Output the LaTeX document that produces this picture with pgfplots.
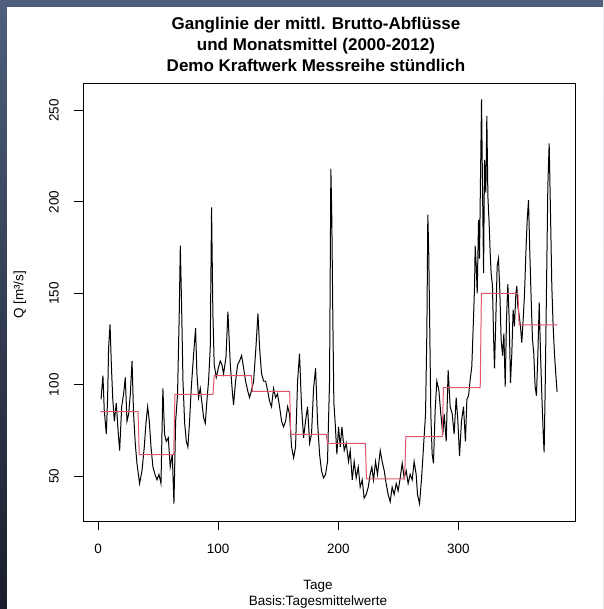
\documentclass[border=0pt]{standalone}
\usepackage{pgfplots}
\pgfplotsset{compat=1.18}
\usepackage{fontspec}
\setmainfont{Liberation Sans}
\definecolor{rred}{HTML}{E0566E}
\definecolor{bgtop}{RGB}{78,94,124}
\definecolor{bgbot}{RGB}{26,30,42}
\begin{document}
\begin{tikzpicture}
\useasboundingbox (0pt,0pt) rectangle (603pt,609pt);
\shade[top color=bgtop, bottom color=bgbot] (0pt,0pt) rectangle (603pt,609pt);
\fill[white] (7pt,0pt) rectangle (603pt,602pt);
\begin{axis}[at={(83pt,88pt)}, anchor=south west, scale only axis,
  width=492pt, height=438pt,
  xmin=-12.5, xmax=397, ymin=25.5, ymax=265,
  xtick={0,100,200,300}, ytick={50,100,150,200,250},
  tick align=outside, major tick length=9pt,
  xtick pos=bottom, ytick pos=left,
  axis line style={line width=0.8pt},
  every tick/.style={black, line width=0.8pt},
  ticklabel style={font=\fontsize{13.5}{16}\selectfont},
  /pgf/number format/assume math mode=true,
  yticklabel style={xshift=-20pt, rotate=90, anchor=center},
  xticklabel style={yshift=-19pt, anchor=center},
  clip=false]
\addplot[black, line width=1pt] coordinates {
(2.5,92)(4.1,105)(5.2,86)(6.9,73)(8.0,93)(8.8,120)(10.0,133)(11.1,111)(12.2,93)(13.6,80)
(15.2,90)(16.9,73)(18.0,64)(19.7,88)(21.3,95)(22.7,104)(24.1,80)(25.5,84)(26.9,95)(28.3,113)
(29.6,84)(31.0,68)(32.4,57)(34.6,46)(36.6,53)(38.5,66)(39.9,79)(41.3,88)(42.7,80)(44.1,66)
(45.7,55)(47.4,51)(49.1,48)(50.7,51)(52.4,46)(54.0,98)(55.4,73)(56.8,69)(58.5,71)(60.1,55)
(61.8,62)(63.2,35)(64.6,80)(66.2,95)(67.6,139)(68.5,176)(69.6,142)(70.7,102)(72.1,79)(73.5,69)
(74.8,66)(76.2,80)(77.6,98)(79.6,117)(81.2,131)(82.3,106)(83.7,93)(85.1,98)(86.5,90)(87.9,82)
(89.3,79)(90.6,91)(92.0,102)(93.4,120)(94.5,197)(95.6,139)(96.7,111)(98.4,104)(100.1,109)(101.7,113)
(103.1,111)(104.5,106)(106.5,115)(108.1,140)(110.1,111)(111.7,97)(112.8,89)(114.5,102)(116.2,111)(117.8,113)
(119.5,116)(121.2,109)(122.8,102)(124.5,97)(126.1,93)(127.8,97)(129.5,102)(131.4,120)(133.1,139)(134.5,120)
(136.1,106)(137.8,102)(139.5,102)(141.1,97)(142.8,91)(144.4,88)(146.1,98)(147.8,93)(149.4,95)(151.1,88)
(152.8,80)(154.4,77)(156.1,80)(157.8,88)(159.4,84)(161.1,66)(162.8,60)(164.4,66)(166.1,102)(167.7,117)
(169.4,88)(171.1,71)(172.7,80)(174.4,88)(176.1,68)(177.7,73)(179.4,98)(181.1,109)(182.7,80)(184.4,62)
(186.0,53)(187.7,49)(189.4,51)(191.0,58)(192.7,102)(193.8,218)(194.6,191)(195.4,139)(196.3,90)(197.4,79)
(198.8,62)(200.2,77)(201.6,66)(203.0,77)(204.9,64)(206.6,68)(208.5,58)(209.9,64)(211.6,48)(213.2,58)
(214.9,49)(216.6,55)(218.2,44)(219.9,48)(221.5,38)(223.2,40)(224.9,44)(226.5,51)(227.9,55)(229.3,48)
(231.0,58)(232.6,51)(234.9,64)(236.5,58)(238.2,53)(239.8,46)(241.5,40)(243.2,36)(244.8,44)(246.5,40)
(248.2,46)(249.8,42)(251.5,49)(253.2,57)(254.8,49)(256.5,53)(258.1,46)(259.8,51)(261.5,48)(263.1,58)
(264.8,51)(265.9,40)(267.6,35)(269.2,48)(270.9,66)(272.6,84)(273.7,129)(274.5,193)(275.3,171)(276.2,126)
(277.0,84)(278.1,62)(279.2,57)(280.6,86)(282.0,102)(283.7,97)(285.3,84)(287.0,73)(288.1,84)(289.8,69)
(291.4,108)(293.1,88)(294.8,84)(296.4,73)(298.1,93)(299.5,80)(300.9,61)(302.5,80)(304.2,88)(305.8,69)
(307.0,92)(308.4,94)(309.8,103)(311.1,110)(312.5,136)(313.4,154)(313.9,176)(314.8,165)(315.6,150)(316.7,190)
(317.5,169)(318.4,216)(319.2,256)(320.0,209)(320.9,161)(321.7,223)(322.8,205)(323.6,247)(324.5,203)(325.6,187)
(326.4,172)(327.2,161)(328.3,154)(329.2,127)(330.0,109)(331.1,136)(332.2,165)(333.3,169)(334.4,152)(335.5,125)
(336.7,116)(337.8,128)(338.9,99)(340.0,136)(341.1,155)(342.2,136)(343.3,101)(344.4,117)(345.5,141)(346.6,132)
(347.8,150)(348.6,154)(349.4,143)(350.5,138)(351.6,132)(352.7,123)(353.9,136)(355.0,150)(356.1,172)(357.2,190)
(358.3,201)(359.4,172)(360.5,147)(361.6,125)(362.7,117)(363.8,99)(364.9,94)(366.1,117)(367.2,145)(368.3,117)
(369.4,94)(370.5,74)(371.3,63)(372.2,99)(373.3,154)(374.4,209)(375.5,232)(376.6,194)(377.7,154)(378.8,132)
(379.9,117)(381.0,106)(382.1,96)
};
\addplot[rred, line width=1pt] coordinates {
(2,85.3)(33.3,85.3)(34.3,61.8)(63,61.8)(64,94.8)(95.7,94.8)(96.7,105)(127.6,105)
(128.6,96.4)(159.5,96.4)(160.5,72.8)(190,72.8)(191,68)(222.5,68)(223.5,48.6)(255.2,48.6)
(256.2,71.7)(286.5,71.7)(287.5,98.4)(318.1,98.4)(319.1,149.9)(349.5,149.9)(350.5,132.8)(382.4,132.8)
};
\end{axis}
\begin{scope}[font=\bfseries\fontsize{17}{21}\selectfont]
\node[anchor=base] at (316pt,579pt) {Ganglinie der mittl. Brutto-Abflüsse};
\node[anchor=base] at (316pt,558pt) {und Monatsmittel (2000-2012)};
\node[anchor=base] at (316pt,537pt) {Demo Kraftwerk Messreihe stündlich};
\end{scope}
\begin{scope}[font=\fontsize{13.5}{16}\selectfont]
\node[anchor=base] at (318pt,19pt) {Tage};
\node[anchor=base] at (318pt,4pt) {Basis:Tagesmittelwerte};
\node[rotate=90, anchor=center] at (20pt,314pt) {Q [m³/s]};
\end{scope}
\end{tikzpicture}
\end{document}
